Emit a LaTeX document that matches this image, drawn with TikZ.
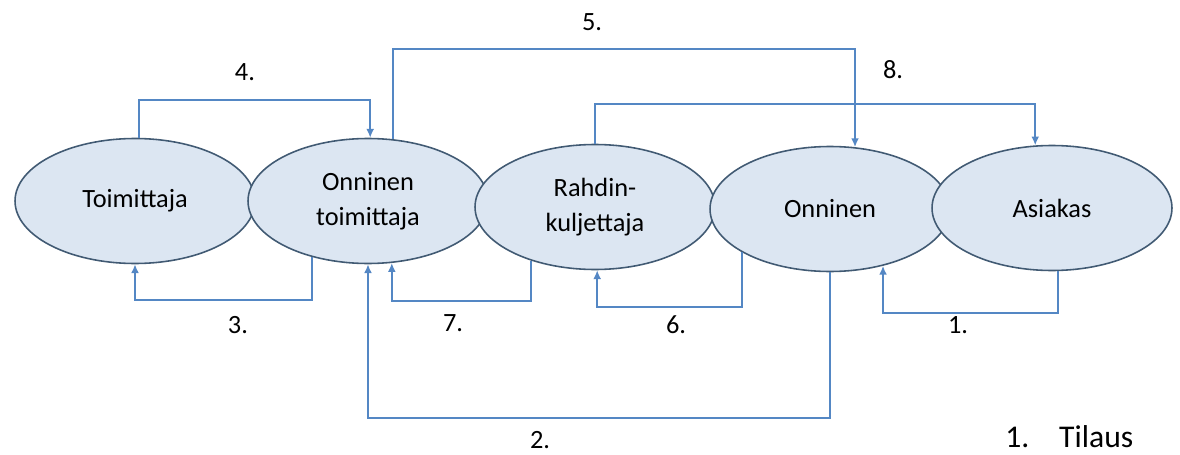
\documentclass[tikz,border=0pt]{standalone}
\usepackage{fontspec}
\setmainfont{Carlito}
\usetikzlibrary{arrows.meta,shapes.geometric}

\definecolor{flowblue}{RGB}{84,135,196}
\definecolor{ovalfill}{RGB}{220,230,242}
\definecolor{ovaldraw}{RGB}{65,90,115}

\begin{document}
\begin{tikzpicture}[x=0.02cm, y=0.02cm,
    party/.style={ellipse, draw=ovaldraw, line width=0.9pt, fill=ovalfill,
        minimum width=4.8cm, minimum height=2.5cm, inner sep=0pt, align=center,
        font=\fontsize{15}{20}\selectfont},
    flow/.style={draw=flowblue, line width=1.1pt, -{Latex[length=5pt,width=4.5pt]}},
    steplabel/.style={font=\fontsize{15}{18}\selectfont}]
    \useasboundingbox (0,0) rectangle (1180,454);

    % Osapuolet
    \node[party] (toim) at (135,253) {Toimittaja};
    \node[party] (otoim) at (368,253) {Onninen\\toimittaja};
    \node[party] (rahti) at (595,247) {Rahdin-\\kuljettaja};
    \node[party] (onn) at (830,245) {Onninen};
    \node[party] (asiakas) at (1052,246) {Asiakas};

    % Ylapuolen nuolet
    \draw[flow] (toim.86) -- ++(0,38) -| (otoim.88);
    \draw[flow] (otoim.68) -- ++(0,90) -| (onn.68);
    \draw[flow] (rahti.north) -- ++(0,40) -| (asiakas.105);

    % Alapuolen nuolet
    \draw[flow] (otoim.-135) -- ++(0,-43) -| (toim.south);
    \draw[flow] (rahti.-140) -- ++(0,-40) -| (otoim.-69);
    \draw[flow] (onn.-154) -- ++(0,-55) -| (rahti.-88);
    \draw[flow] (asiakas.-85) -- ++(0,-42) -| (onn.-47);
    \draw[flow] (onn.south) -- ++(0,-146) -| (otoim.south);

    % Numerot
    \node[steplabel] (lab4) at (245,382) {4.};
    \node[steplabel] (lab5) at (592,432) {5.};
    \node[steplabel] (lab8) at (893,384) {8.};
    \node[steplabel] (lab3) at (238,129) {3.};
    \node[steplabel] (lab7) at (453,131) {7.};
    \node[steplabel] (lab6) at (676,129) {6.};
    \node[steplabel] (lab1) at (958,129) {1.};
    \node[steplabel] (lab2) at (540,14) {2.};

    % Selite
    \node[font=\fontsize{18}{20}\selectfont, anchor=base west, inner sep=0pt] (selite) at (1005,7) {1.\hspace{17pt}Tilaus};
\end{tikzpicture}
\end{document}
